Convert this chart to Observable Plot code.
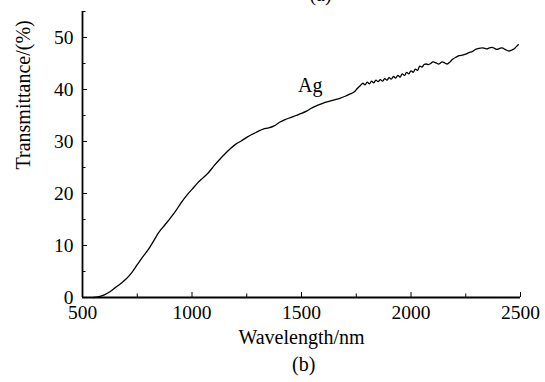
<!DOCTYPE html>
<html>
<head>
<meta charset="utf-8">
<script src="https://cdn.jsdelivr.net/npm/d3@7"></script>
<script src="https://cdn.jsdelivr.net/npm/@observablehq/plot@0.6"></script>
<style>
  html, body { margin: 0; padding: 0; background: #fff; }
  #chart { width: 545px; }
  .cap { font-family: "Liberation Serif", "Times New Roman", serif; font-size: 20px; line-height: 24px; height: 30px; padding-left: 292px; color: #000; }
</style>
</head>
<body>
<div id="chart"></div>
<script>
// Data
const wavelength = [
  550, 575, 600, 625, 650, 675, 700, 725, 750, 775, 800, 825, 850, 875, 900, 925, 950, 975,
  1000, 1025, 1050, 1075, 1100, 1125, 1150, 1175, 1200, 1225, 1250, 1275, 1300, 1325, 1350, 1375,
  1400, 1425, 1450, 1475, 1500, 1525, 1550, 1575, 1600, 1625, 1650, 1675, 1700, 1720, 1740, 1755,
  1770, 1780, 1790, 1800, 1810, 1820, 1830, 1840, 1850, 1860, 1870, 1880, 1890, 1900, 1910, 1920,
  1930, 1940, 1950, 1960, 1970, 1980, 1990, 2000, 2010, 2020, 2030, 2040, 2050, 2060, 2070, 2080,
  2090, 2100, 2115, 2127, 2142, 2155, 2165, 2178, 2190, 2205, 2220, 2235, 2250, 2265, 2280, 2295,
  2310, 2325, 2337, 2347, 2358, 2370, 2382, 2393, 2405, 2416, 2430, 2447, 2460, 2470, 2480, 2490
];
const transmittance = [
  0, 0.15, 0.5, 1.1, 1.9, 2.7, 3.6, 4.8, 6.3, 7.8, 9.2, 10.9, 12.6, 13.9, 15.2, 16.6, 18.2, 19.6,
  20.8, 22.0, 23.0, 24.0, 25.3, 26.5, 27.6, 28.6, 29.5, 30.1, 30.8, 31.4, 31.9, 32.4, 32.6, 33.0,
  33.7, 34.2, 34.6, 35.0, 35.4, 35.9, 36.5, 37.0, 37.4, 37.7, 38.0, 38.3, 38.7, 39.1, 39.5, 40.2,
  40.8, 41.2, 40.9, 41.4, 41.1, 41.6, 41.3, 41.8, 41.5, 41.9, 41.6, 42.1, 41.8, 42.3, 42.0, 42.5,
  42.2, 42.7, 42.4, 43.0, 42.7, 43.3, 43.0, 43.6, 43.3, 43.9, 43.7, 44.5, 44.3, 44.8, 44.9, 44.8,
  45.0, 45.3, 45.1, 44.9, 45.3, 45.1, 44.9, 45.3, 45.8, 46.2, 46.5, 46.6, 46.8, 47.1, 47.3, 47.7,
  47.9, 48.0, 47.9, 47.8, 48.0, 48.1, 47.9, 47.7, 47.9, 48.0, 47.7, 47.4, 47.6, 47.8, 48.2, 48.6
];
const xMajorTicks = [500, 1000, 1500, 2000, 2500];
const xMinorTicks = [750, 1250, 1750, 2250];
const yMajorTicks = [0, 10, 20, 30, 40, 50];
const yMinorTicks = [5, 15, 25, 35, 45, 55];
const seriesLabel = [{x: 1540, y: 40.7, text: "Ag"}];
const xTitle = "Wavelength/nm";
const yTitle = "Transmittance/(%)";
const topCaption = "(a)";
const bottomCaption = "(b)";

const data = wavelength.map((w, i) => ({w, t: transmittance[i]}));

const W = 545, H = 352;
const mL = 82, mR = 25, mT = 11, mB = 55;
const plotW = W - mL - mR, plotH = H - mT - mB;
const font = '"Liberation Serif", "Times New Roman", serif';

const chart = Plot.plot({
  width: W, height: H,
  marginLeft: mL, marginRight: mR, marginTop: mT, marginBottom: mB,
  style: {fontFamily: font, background: "#fff", color: "#000", overflow: "hidden"},
  x: {domain: [500, 2500]},
  y: {domain: [0, 55]},
  marks: [
    Plot.line(data, {x: "w", y: "t", stroke: "#000", strokeWidth: 1.3, curve: "catmull-rom"}),
    Plot.ruleX([500], {stroke: "#000", strokeWidth: 1.8}),
    Plot.ruleY([0], {stroke: "#000", strokeWidth: 1.8}),
    Plot.tickX(xMajorTicks, {x: d => d, stroke: "#000", strokeWidth: 1, insetTop: plotH - 5}),
    Plot.tickX(xMinorTicks, {x: d => d, stroke: "#000", strokeWidth: 1, insetTop: plotH - 3.5}),
    Plot.tickY(yMajorTicks, {y: d => d, stroke: "#000", strokeWidth: 1, insetRight: plotW - 5}),
    Plot.tickY(yMinorTicks, {y: d => d, stroke: "#000", strokeWidth: 1, insetRight: plotW - 3.5}),
    Plot.axisX({ticks: xMajorTicks, tickSize: 0, tickPadding: 8, tickFormat: d => String(d), fontSize: 19.5, label: null}),
    Plot.axisY({ticks: yMajorTicks, tickSize: 0, tickPadding: 9, tickFormat: d => String(d), fontSize: 19.5, label: null}),
    Plot.text(seriesLabel, {x: "x", y: "y", text: "text", fontSize: 20, fill: "#000"}),
    Plot.text([xTitle], {frameAnchor: "bottom", lineAnchor: "bottom", dy: 46, fontSize: 20, fill: "#000"}),
    Plot.text([yTitle], {frameAnchor: "left", rotate: -90, dx: -59, dy: 15, fontSize: 20, fill: "#000"}),
    Plot.text([topCaption], {frameAnchor: "top", lineAnchor: "bottom", dx: 19, dy: -11, fontSize: 20, fill: "#000"})
  ]
});
document.getElementById("chart").append(chart);
const cap = document.createElement("div");
cap.className = "cap";
cap.textContent = bottomCaption;
document.getElementById("chart").append(cap);
</script>
</body>
</html>
